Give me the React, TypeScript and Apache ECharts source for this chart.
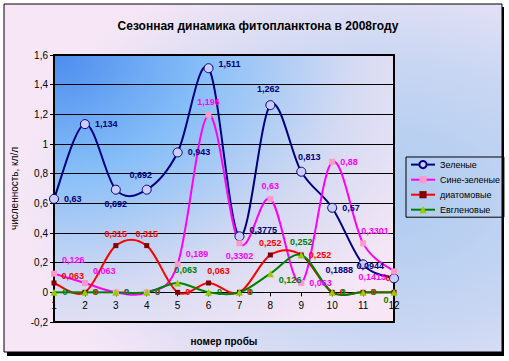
import React, { useEffect, useRef } from "react";
import * as echarts from "echarts";

const categories = ["1", "2", "3", "4", "5", "6", "7", "8", "9", "10", "11", "12"];
const greenAlgae = [0.63, 1.134, 0.692, 0.692, 0.943, 1.511, 0.3775, 1.262, 0.813, 0.57, 0.1888, 0.0944];
const blueGreen = [0.126, 0.063, 0, 0, 0.189, 1.196, 0.3302, 0.63, 0.063, 0.88, 0.3301, 0.1415];
const diatoms = [0.063, 0, 0.315, 0.315, 0, 0.063, 0, 0.252, 0.252, 0, 0, 0];
const euglena = [0, 0, 0, 0, 0.063, 0, 0, 0.126, 0.252, 0, 0, 0];
const seriesNames = ["Зеленые", "Сине-зеленые", "диатомовые", "Евгленовые"];

type LP = [string, number, number];
const greenLbl: LP[] = [
  ["right", 0, 0], ["right", 0, 0], ["bottom", 0, 0], ["top", -6, 0], ["right", 0, 0], ["right", 0, -4],
  ["right", 0, -6], ["top", -2, -2], ["top", 8, 0], ["right", 0, 0], ["left", 0, 6], ["left", 0, -12],
];
const blueGreenLbl: LP[] = [
  ["right", 0, -14], ["right", 0, -12], ["right", 0, 0], ["right", 0, 0], ["right", 0, -10], ["top", 0, 0],
  ["bottom", 0, 0], ["top", 0, 0], ["right", 0, 0], ["right", 0, 0], ["top", 12, 0], ["left", 0, 6],
];
const diatomLbl: LP[] = [
  ["right", 0, -7], ["right", 0, 0], ["top", 0, 0], ["top", 0, 0], ["right", 0, 0], ["top", 10, 0],
  ["right", 0, 0], ["top", 0, 0], ["right", 0, 0], ["right", 0, 0], ["right", 0, 0], ["top", -6, -2],
];
const euglenaLbl: LP[] = [
  ["right", 0, 0], ["right", 0, 0], ["right", 0, 0], ["right", 0, 0], ["top", 8, 0], ["right", 0, 0],
  ["right", 0, 0], ["right", 0, 6], ["top", 0, 0], ["right", 0, 0], ["right", 0, 0], ["bottom", -8, -5],
];

const fmt = (v: number) => String(v).replace(".", ",");

function build(values: number[], lbl: LP[]) {
  return values.map((v, i) => ({
    value: v,
    label: { position: lbl[i][0], offset: [lbl[i][1], lbl[i][2]] },
  }));
}

// Excel-like smoothed segment (Catmull-Rom -> cubic Bezier), computed via the axes' own coord mapping
function smoothSeries(name: string, values: number[], color: string) {
  return {
    name: name + "-curve",
    type: "custom",
    silent: true,
    z: 1,
    data: values.map((v, i) => [i, v]),
    renderItem: (params: any, api: any) => {
      const i = params.dataIndex;
      if (i >= values.length - 1) return null;
      const p = (k: number) => {
        const kk = Math.max(0, Math.min(values.length - 1, k));
        return api.coord([kk, values[kk]]);
      };
      const p0 = p(i - 1), p1 = p(i), p2 = p(i + 1), p3 = p(i + 2);
      return {
        type: "bezierCurve",
        shape: {
          x1: p1[0], y1: p1[1],
          x2: p2[0], y2: p2[1],
          cpx1: p1[0] + (p2[0] - p0[0]) / 6,
          cpy1: p1[1] + (p2[1] - p0[1]) / 6,
          cpx2: p2[0] - (p3[0] - p1[0]) / 6,
          cpy2: p2[1] - (p3[1] - p1[1]) / 6,
        },
        style: { stroke: color, lineWidth: 2, fill: "none" },
      };
    },
  };
}

const GRID_TOP = 55;
const GRID_H = 267;
const Y_MIN = -0.2;
const Y_MAX = 1.6;

export default function App() {
  const ref = useRef<HTMLDivElement>(null);
  useEffect(() => {
    if (!ref.current) return;
    const chart = echarts.init(ref.current, null, { renderer: "svg" });
    const labelBase = (color: string) => ({
      show: true,
      color,
      fontSize: 9,
      fontWeight: "bold",
      fontFamily: "Arial, Liberation Sans",
      formatter: (p: any) => fmt(p.value),
    });
    const colors = ["#000080", "#FF00FF", "#FF0000", "#008000"];
    const lineSeries = (idx: number, values: number[], lbl: LP[], symbol: string, size: number, itemStyle: any, labelColor: string) => ({
      name: seriesNames[idx],
      type: "line",
      data: build(values, lbl),
      symbol,
      symbolSize: size,
      z: 3,
      lineStyle: { color: colors[idx], width: 2, opacity: 0 },
      itemStyle,
      label: labelBase(labelColor),
    });
    // shift the category axis up to the value 0 line
    const zeroOffset = -GRID_H * (0 - Y_MIN) / (Y_MAX - Y_MIN);
    chart.setOption({
      animation: false,
      backgroundColor: "#ffffff",
      textStyle: { fontFamily: "Arial, Liberation Sans" },
      graphic: [
        { type: "rect", z: -10, shape: { x: 7, y: 7, width: 497, height: 349 }, style: { fill: "#000" }, silent: true },
        {
          type: "rect",
          z: -9,
          shape: { x: 4, y: 4, width: 498, height: 348 },
          style: {
            fill: new echarts.graphic.RadialGradient(0.78, 0.55, 0.75, [
              { offset: 0, color: "#AECBF0" },
              { offset: 0.5, color: "#C8D6F2" },
              { offset: 1, color: "#F7E7F6" },
            ]),
            stroke: "#000",
            lineWidth: 1,
          },
          silent: true,
        },
      ],
      title: {
        text: "Сезонная динамика фитопланктона в 2008году",
        left: 253,
        textAlign: "center",
        top: 15,
        textStyle: { fontSize: 12, fontWeight: "bold", color: "#000", fontFamily: "Arial, Liberation Sans" },
      },
      legend: {
        orient: "vertical",
        left: 406,
        top: 157,
        padding: [3, 4, 3, 4],
        itemGap: 6,
        itemWidth: 24,
        itemHeight: 9,
        borderColor: "#000",
        borderWidth: 1,
        textStyle: { fontSize: 9, color: "#000", fontFamily: "Arial, Liberation Sans" },
        data: seriesNames.map((n) => ({ name: n, lineStyle: { opacity: 1 } })),
      },
      grid: {
        left: 54,
        top: GRID_TOP,
        width: 340,
        height: GRID_H,
        outerBoundsMode: "none",
        containLabel: false,
        show: true,
        borderColor: "#000",
        borderWidth: 2,
        backgroundColor: new echarts.graphic.RadialGradient(0, 0, 1.25, [
          { offset: 0, color: "#4C8CEE" },
          { offset: 0.35, color: "#86BEF8" },
          { offset: 0.7, color: "#D4DAF2" },
          { offset: 1, color: "#F7E7F6" },
        ]),
      },
      xAxis: {
        type: "category",
        data: categories,
        boundaryGap: false,
        offset: zeroOffset,
        name: "номер пробы",
        nameLocation: "middle",
        nameGap: 44,
        nameTextStyle: { fontSize: 10, fontWeight: "bold", color: "#000" },
        axisLine: { onZero: false, lineStyle: { color: "#000", width: 1 } },
        axisTick: { show: true, length: 4, lineStyle: { color: "#000" } },
        axisLabel: { fontSize: 10, color: "#000", margin: 8 },
        splitLine: { show: false },
      },
      yAxis: {
        type: "value",
        min: Y_MIN,
        max: Y_MAX,
        interval: 0.2,
        name: "численность, кл/л",
        nameLocation: "middle",
        nameGap: 33,
        nameTextStyle: { fontSize: 10, color: "#000" },
        axisLine: { show: true, onZero: false, lineStyle: { color: "#000", width: 2 } },
        axisTick: { show: true, length: 4, lineStyle: { color: "#000" } },
        axisLabel: { fontSize: 10, color: "#000", margin: 6, formatter: (v: number) => fmt(Math.round(v * 10) / 10) },
        splitLine: { show: true, lineStyle: { color: "#000", width: 1 } },
      },
      series: [
        smoothSeries(seriesNames[0], greenAlgae, colors[0]),
        smoothSeries(seriesNames[1], blueGreen, colors[1]),
        smoothSeries(seriesNames[2], diatoms, colors[2]),
        smoothSeries(seriesNames[3], euglena, colors[3]),
        lineSeries(0, greenAlgae, greenLbl, "circle", 9, { color: "#CCCCFF", borderColor: "#000080", borderWidth: 1 }, "#000080"),
        lineSeries(1, blueGreen, blueGreenLbl, "rect", 6, { color: "#FF99CC", borderWidth: 0 }, "#FF00FF"),
        lineSeries(2, diatoms, diatomLbl, "rect", 5, { color: "#800000", borderWidth: 0 }, "#FF0000"),
        lineSeries(3, euglena, euglenaLbl, "triangle", 7, { color: "#99CC00", borderWidth: 0 }, "#008000"),
      ],
    });
    return () => chart.dispose();
  }, []);
  return <div ref={ref} style={{ position: "fixed", left: 0, top: 0, width: 509, height: 361 }} />;
}
